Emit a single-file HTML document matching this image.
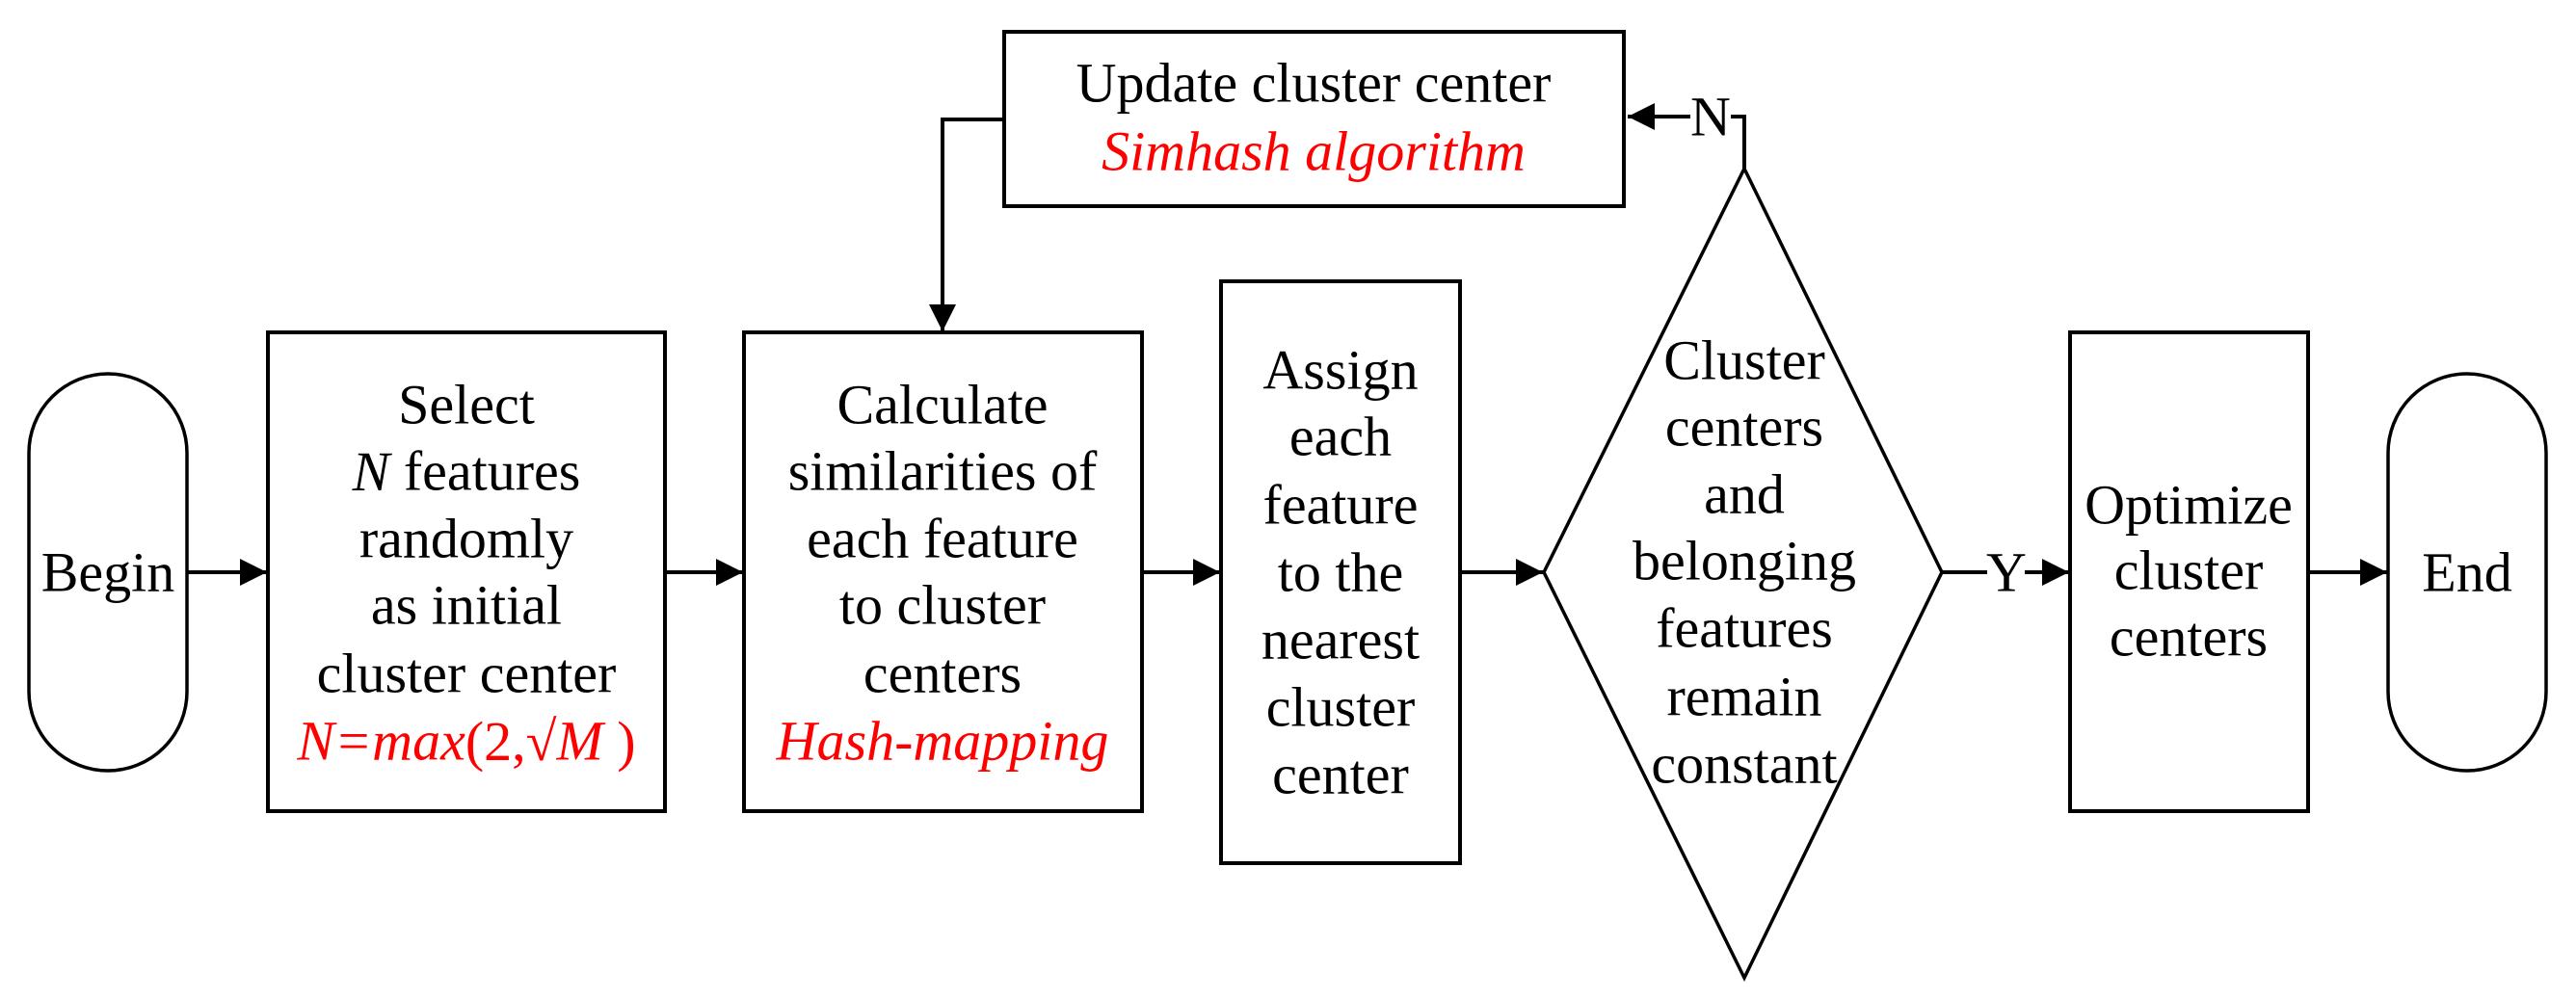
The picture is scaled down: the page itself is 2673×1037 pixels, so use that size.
<!DOCTYPE html>
<html><head><meta charset="utf-8"><style>html,body{margin:0;padding:0;background:#fff}svg{display:block}</style></head>
<body>
<svg width="2673" height="1037" viewBox="0 0 2673 1037" xmlns="http://www.w3.org/2000/svg" font-family="'Liberation Serif', serif" font-size="58" text-anchor="middle" dominant-baseline="central">
<defs><marker id="a" viewBox="0 0 10 10" refX="10" refY="5" markerWidth="28" markerHeight="28" markerUnits="userSpaceOnUse" orient="auto"><path d="M0,0L10,5L0,10z" fill="#000"/></marker></defs>
<g fill="none" stroke="#000" stroke-width="4">
<rect x="30" y="388" width="164" height="412" rx="82" ry="82" stroke-width="3.5"/>
<rect x="278" y="345" width="412" height="497"/>
<rect x="772" y="345" width="413" height="497"/>
<rect x="1267" y="292" width="248" height="604"/>
<rect x="1042" y="33" width="643" height="181"/>
<polygon points="1810,175 2015,594 1810,1015 1602,594" stroke-width="3.5"/>
<rect x="2148" y="345" width="247" height="497"/>
<rect x="2478" y="388" width="164" height="412" rx="82" ry="82" stroke-width="3.5"/>
<line x1="194" y1="594" x2="277" y2="594" marker-end="url(#a)"/>
<line x1="690" y1="594" x2="771" y2="594" marker-end="url(#a)"/>
<line x1="1185" y1="594" x2="1266" y2="594" marker-end="url(#a)"/>
<line x1="1515" y1="594" x2="1601" y2="594" marker-end="url(#a)"/>
<line x1="2395" y1="594" x2="2477" y2="594" marker-end="url(#a)"/>
<line x1="2015" y1="594" x2="2062" y2="594"/>
<line x1="2101" y1="594" x2="2147" y2="594" marker-end="url(#a)"/>
<polyline points="1042,124 978,124 978,344" marker-end="url(#a)"/>
<polyline points="1810,175 1810,121 1796,121"/>
<line x1="1754" y1="121" x2="1689" y2="121" marker-end="url(#a)"/>
</g>
<text x="112" y="594">Begin</text>
<text x="484" y="420">Select</text>
<text x="484" y="489"><tspan font-style="italic">N</tspan> features</text>
<text x="484" y="559">randomly</text>
<text x="484" y="628">as initial</text>
<text x="484" y="699">cluster center</text>
<text x="484" y="769" fill="#f00" font-style="italic">N=max<tspan font-style="normal">(2,√</tspan>M<tspan font-style="normal"> )</tspan></text>
<text x="978" y="420">Calculate</text>
<text x="978" y="489">similarities of</text>
<text x="978" y="559">each feature</text>
<text x="978" y="628">to cluster</text>
<text x="978" y="699">centers</text>
<text x="978" y="769" fill="#f00" font-style="italic">Hash-mapping</text>
<text x="1391" y="384">Assign</text>
<text x="1391" y="453">each</text>
<text x="1391" y="524">feature</text>
<text x="1391" y="594">to the</text>
<text x="1391" y="664">nearest</text>
<text x="1391" y="734">cluster</text>
<text x="1391" y="804">center</text>
<text x="1363" y="86">Update cluster center</text>
<text x="1363" y="157" fill="#f00" font-style="italic">Simhash algorithm</text>
<text x="1810" y="374">Cluster</text>
<text x="1810" y="443">centers</text>
<text x="1810" y="513">and</text>
<text x="1810" y="582">belonging</text>
<text x="1810" y="652">features</text>
<text x="1810" y="723">remain</text>
<text x="1810" y="793">constant</text>
<text x="2271" y="524">Optimize</text>
<text x="2271" y="592">cluster</text>
<text x="2271" y="661">centers</text>
<text x="2560" y="594">End</text>
<text x="1775" y="121">N</text>
<text x="2082" y="594">Y</text>
</svg>
</body></html>
